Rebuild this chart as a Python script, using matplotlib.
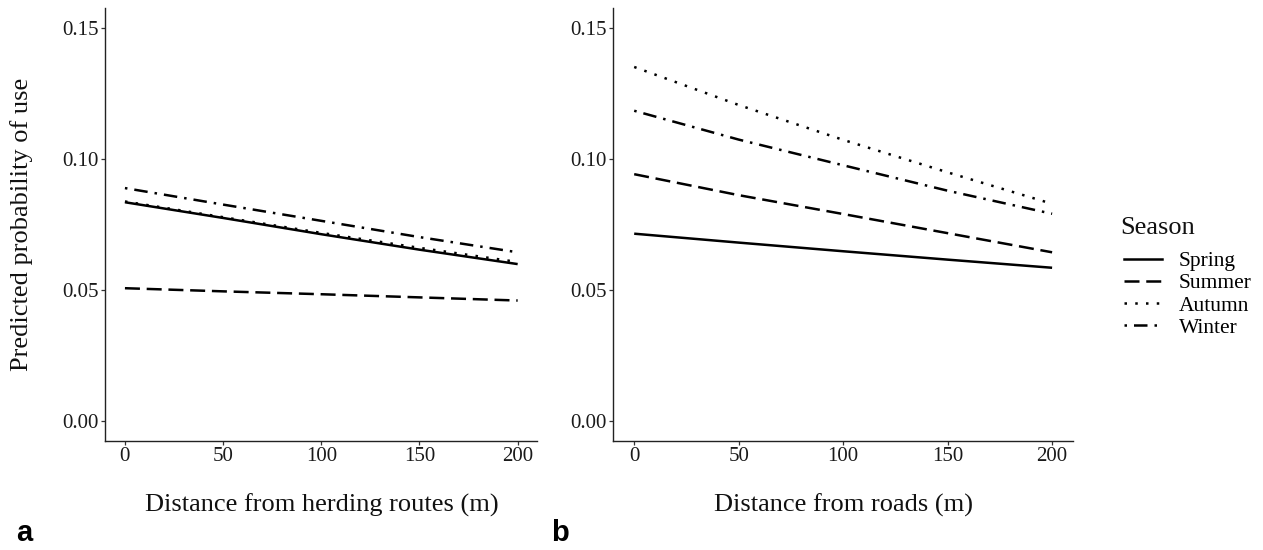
import matplotlib
matplotlib.use("Agg")
import matplotlib.pyplot as plt
from matplotlib.lines import Line2D

# ---- data ----
dist = [0, 50, 100, 150, 200]
seasons = ["Spring", "Summer", "Autumn", "Winter"]

herd_spring = [0.0834, 0.0774, 0.0712, 0.0653, 0.0598]
herd_summer = [0.0506, 0.0494, 0.0483, 0.0471, 0.0459]
herd_autumn = [0.0837, 0.0777, 0.0717, 0.0660, 0.0606]
herd_winter = [0.0888, 0.0825, 0.0763, 0.0701, 0.0643]

road_spring = [0.0714, 0.0680, 0.0647, 0.0615, 0.0584]
road_summer = [0.0941, 0.0861, 0.0789, 0.0716, 0.0643]
road_autumn = [0.1350, 0.1205, 0.1072, 0.0948, 0.0828]
road_winter = [0.1183, 0.1073, 0.0975, 0.0878, 0.0790]

x_ticks = [0, 50, 100, 150, 200]
y_ticks = [0.00, 0.05, 0.10, 0.15]
y_ticklabels = ["0.00", "0.05", "0.10", "0.15"]

# ---- style ----
SERIF = "Liberation Serif"
plt.rcParams["font.family"] = [SERIF, "DejaVu Serif"]
LW = 1.8
styles = {
    "Spring": "-",
    "Summer": (0, (6.0, 2.7)),
    "Autumn": (0, (1.0, 3.3)),
    "Winter": (0, (1.0, 2.8, 5.4, 2.8)),
}
TICK_FS = 15
LEG_FS = 15.5
TITLE_FS = 19

W, H = 1263, 550
fig = plt.figure(figsize=(W / 100, H / 100), dpi=100)


def px_axes(x0, x1, ytop, ybot):
    return [x0 / W, 1 - ybot / H, (x1 - x0) / W, (ybot - ytop) / H]


def style_ax(ax):
    ax.set_xlim(-10, 210)
    ax.set_ylim(-0.0075, 0.1575)
    ax.set_xticks(x_ticks)
    ax.set_xticklabels([str(t) for t in x_ticks])
    ax.set_yticks(y_ticks)
    ax.set_yticklabels(y_ticklabels)
    for s in ["top", "right"]:
        ax.spines[s].set_visible(False)
    for s in ["left", "bottom"]:
        ax.spines[s].set_linewidth(1.0)
        ax.spines[s].set_color("#222222")
    ax.tick_params(axis="both", length=2.7, width=0.9, color="#333333",
                   labelsize=TICK_FS, labelcolor="#1a1a1a", pad=2.2)


ax_a = fig.add_axes(px_axes(105.3, 537.3, 8, 440.5))
ax_b = fig.add_axes(px_axes(613.3, 1073, 8, 440.5))

herd = {"Spring": herd_spring, "Summer": herd_summer,
        "Autumn": herd_autumn, "Winter": herd_winter}
road = {"Spring": road_spring, "Summer": road_summer,
        "Autumn": road_autumn, "Winter": road_winter}

for ax, data in [(ax_a, herd), (ax_b, road)]:
    for s in seasons:
        ax.plot(dist, data[s], color="black", lw=LW, linestyle=styles[s],
                dash_capstyle="butt", solid_capstyle="butt")
    style_ax(ax)

# axis titles
fig.text(22 / W, 1 - 224 / H, "Predicted probability of use", rotation=90,
         ha="center", va="center", fontsize=TITLE_FS, color="#111111")
fig.text(322 / W, 1 - 505 / H, "Distance from herding routes (m)",
         ha="center", va="center", fontsize=TITLE_FS, color="#111111")
fig.text(843 / W, 1 - 505 / H, "Distance from roads (m)",
         ha="center", va="center", fontsize=TITLE_FS, color="#111111")

# panel letters
fig.text(16 / W, 1 - 533 / H, "a", ha="left", va="center", fontsize=21,
         fontweight="bold", family="Liberation Sans")
fig.text(551 / W, 1 - 533 / H, "b", ha="left", va="center", fontsize=21,
         fontweight="bold", family="Liberation Sans")

# legend
fig.text(1120 / W, 1 - 228 / H, "Season", ha="left", va="center",
         fontsize=TITLE_FS, color="#111111")
handles = [Line2D([], [], color="black", lw=LW, linestyle=styles[s],
                  dash_capstyle="butt") for s in seasons]
leg = fig.legend(handles, seasons, loc="upper left",
                 bbox_to_anchor=(1124 / W, 1 - 251 / H), frameon=False,
                 fontsize=LEG_FS,
                 handlelength=1.77, handletextpad=0.79, labelspacing=0.1,
                 borderaxespad=0, borderpad=0)

fig.savefig("out.png", dpi=100)
